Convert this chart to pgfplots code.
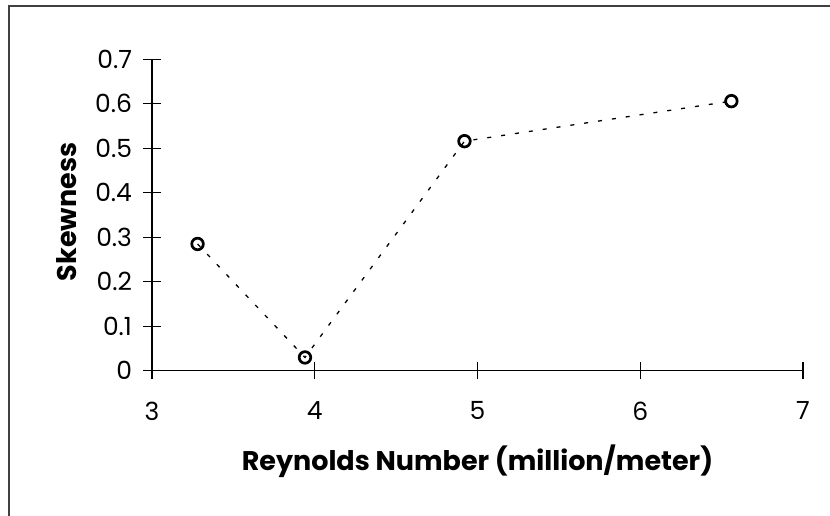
\documentclass[border=0pt]{standalone}
\usepackage{pgfplots}
\pgfplotsset{compat=1.18}
\usepackage{fontspec}
\setmainfont{Poppins}
\begin{document}
\begin{tikzpicture}[x=1pt,y=1pt]
\useasboundingbox (0,0) rectangle (830,516);
\draw[line width=1.3pt, black!75] (9,0) -- (9,510) -- (830,510);
\begin{axis}[
  at={(152pt,145.2pt)}, anchor=south west,
  scale only axis, width=651pt, height=311.5pt,
  xmin=3, xmax=7, ymin=0, ymax=0.7,
  axis x line*=bottom, axis y line*=left,
  axis line style={line width=1.4pt},
  xtick={3,4,5,6,7}, ytick={0,0.1,0.2,0.3,0.4,0.5,0.6,0.7},
  tick align=center, major tick length=17pt,
  tick style={line width=1.2pt, black},
  /pgf/number format/assume math mode=true,
  yticklabel style={/pgf/number format/fixed, /pgf/number format/precision=1, xshift=-8pt},
  xticklabel style={yshift=-19pt},
  tick label style={font=\fontsize{25}{25}\selectfont},
  label style={font=\fontsize{27}{29}\selectfont\bfseries},
  xlabel={Reynolds Number (million/meter)},
  ylabel={Skewness},
  xlabel style={at={(axis description cs:0.5,-0.289)}, anchor=center},
  ylabel style={at={(axis description cs:-0.1306,0.51)}, anchor=center},
  clip=false,
]
\addplot[black, line width=1.3pt, dash pattern=on 4pt off 10pt,
  mark=o, mark size=5.8pt, mark options={solid, line width=2.7pt}]
  coordinates {(3.28,0.285) (3.94,0.030) (4.92,0.516) (6.56,0.606)};
\end{axis}
\end{tikzpicture}
\end{document}
